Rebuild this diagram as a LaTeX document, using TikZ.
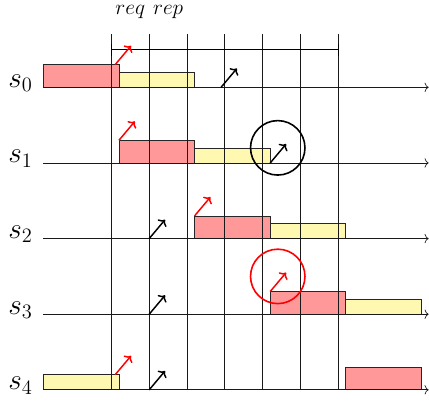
\documentclass[tikz,border=0pt]{standalone}
\usepackage{fix-cm}
\usetikzlibrary{arrows.meta}
\definecolor{ylw}{RGB}{255,248,176}
\definecolor{rdb}{RGB}{255,153,153}
\begin{document}
\begin{tikzpicture}[x=1cm,y=1cm,
  redbox/.style={draw=black!85, fill=rdb, line width=0.5pt},
  yelbox/.style={draw=black!85, fill=ylw, line width=0.5pt},
  gridline/.style={black!90, line width=0.5pt},
  axisline/.style={-{To[length=3pt,width=7pt]}, black!90, line width=0.5pt},
  redarr/.style={->, red, line width=1.1pt},
  blkarr/.style={->, black, line width=1.1pt},
  lbl/.style={font=\fontsize{22}{26}\selectfont, anchor=base east, inner sep=0pt},
  toplbl/.style={font=\fontsize{16}{17}\selectfont, inner sep=0pt, anchor=base}]
\useasboundingbox (-1.146,-0.336) rectangle (10.2,10.31);
% boxes
\draw[redbox] (0,8) rectangle (2,8.6);
\draw[yelbox] (2,8) rectangle (4,8.4);
\draw[redbox] (2,6) rectangle (4,6.6);
\draw[yelbox] (4,6) rectangle (6,6.4);
\draw[redbox] (4,4) rectangle (6,4.6);
\draw[yelbox] (6,4) rectangle (8,4.4);
\draw[redbox] (6,2) rectangle (8,2.6);
\draw[yelbox] (8,2) rectangle (10,2.4);
\draw[yelbox] (0,0) rectangle (2,0.4);
\draw[redbox] (8,0) rectangle (10,0.6);
% vertical grid lines
\foreach \x in {1.8,2.8,3.8,4.8,5.8,6.8,7.8}
  \draw[gridline] (\x,0) -- (\x,9.4);
% bracket
\draw[black, line width=0.5pt, {Bar[width=9pt]}-{Bar[width=9pt]}] (1.8,9) -- (7.8,9);
\node[toplbl] (req) at (2.3,9.93) {$req$};
\node[toplbl] (rep) at (3.3,9.93) {$rep$};
% axes
\foreach \y/\i in {8/0,6/1,4/2,2/3,0/4}{
  \draw[axisline] (0,\y) -- (10.19,\y);
  \node[lbl] (s\i) at (-0.28,\y) {$s_{\i}$};
}
% arrows
\draw[redarr] (1.9,8.6) -- ++(0.42,0.5);
\draw[blkarr] (4.7,8) -- ++(0.42,0.5);
\draw[redarr] (2,6.6) -- ++(0.42,0.5);
\draw[blkarr] (6,6) -- ++(0.42,0.5);
\draw[line width=1.2pt] (6.2,6.4) circle (0.72);
\draw[redarr] (4,4.6) -- ++(0.42,0.5);
\draw[blkarr] (2.8,4) -- ++(0.42,0.5);
\draw[blkarr] (2.8,2) -- ++(0.42,0.5);
\draw[redarr] (6,2.6) -- ++(0.42,0.5);
\draw[red, line width=1.2pt] (6.2,3.0) circle (0.72);
\draw[blkarr] (2.8,0) -- ++(0.42,0.5);
\draw[redarr] (1.9,0.4) -- ++(0.42,0.5);
\end{tikzpicture}
\end{document}
